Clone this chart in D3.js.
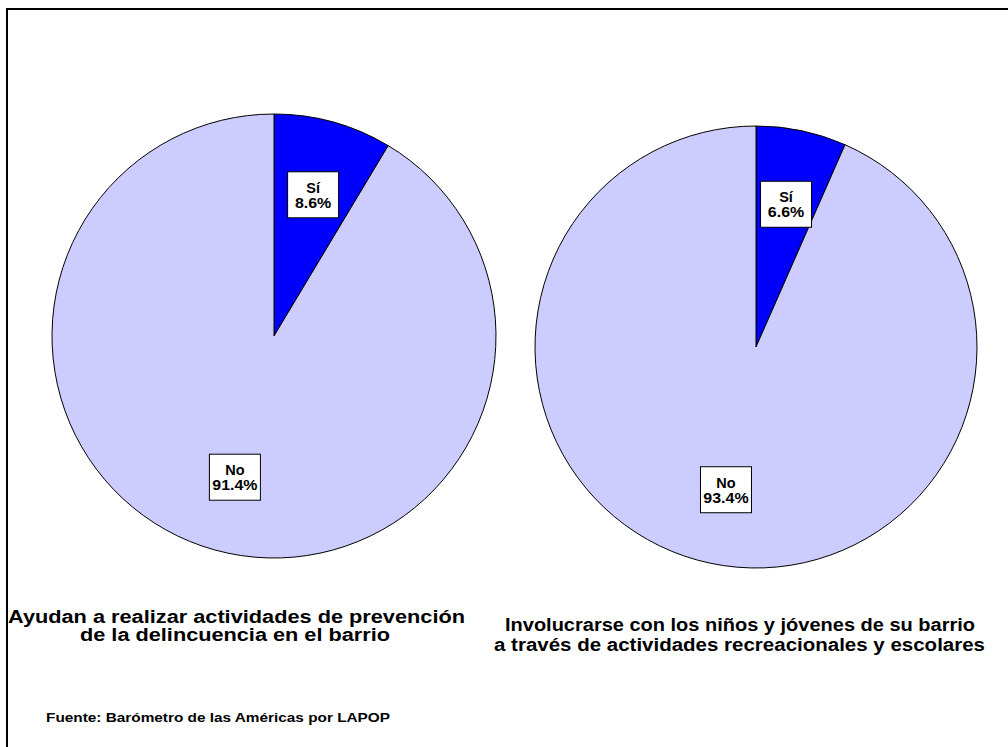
<!DOCTYPE html>
<html><head><meta charset="utf-8">
<script src="https://cdn.jsdelivr.net/npm/d3@7"></script>
<style>html,body{margin:0;padding:0;background:#fff;}svg{display:block;}</style>
</head><body>
<svg id="c" width="1008" height="747"></svg>
<script>
const categories = ["Sí", "No"];
const pie1Values = [8.6, 91.4];
const pie2Values = [6.6, 93.4];
const titles1 = ["Ayudan a realizar actividades de prevención", "de la delincuencia en el barrio"];
const titles2 = ["Involucrarse con los niños y jóvenes de su barrio", "a través de actividades recreacionales y escolares"];
const source = "Fuente: Barómetro de las Américas por LAPOP";

const svg = d3.select("#c");
const font = "'Liberation Sans', Arial, sans-serif";
const color = d3.scaleOrdinal().domain(categories).range(["#0000FF", "#CCCCFF"]);

svg.append("rect").attr("x", 7).attr("y", 9).attr("width", 1010).attr("height", 750)
  .attr("fill", "none").attr("stroke", "#000").attr("stroke-width", 2);

const pies = [
  {values: pie1Values, cx: 274, cy: 336, r: 222, titles: titles1,
   lines: [{x: 236.5, y: 623, w: 457}, {x: 235, y: 641, w: 310}]},
  {values: pie2Values, cx: 756, cy: 347, r: 221, titles: titles2,
   lines: [{x: 740, y: 631, w: 470}, {x: 739.5, y: 651, w: 491}]}
];

const pieGen = d3.pie().sort(null).value(d => d.v);

function stretch(sel, k) {
  sel.each(function() {
    const w = this.getComputedTextLength();
    d3.select(this).attr("textLength", w * k).attr("lengthAdjust", "spacingAndGlyphs");
  });
}

pies.forEach(p => {
  const data = categories.map((c, i) => ({c, v: p.values[i]}));
  const arcs = pieGen(data);
  const arc = d3.arc().innerRadius(0).outerRadius(p.r);
  const labelArc = d3.arc().innerRadius(p.r * 0.66).outerRadius(p.r * 0.66);
  const g = svg.append("g").attr("transform", `translate(${p.cx},${p.cy})`);
  g.selectAll("path").data(arcs).join("path")
    .attr("d", arc).attr("fill", d => color(d.data.c))
    .attr("stroke", "#000").attr("stroke-width", 1);
  const lg = g.selectAll("g.lab").data(arcs).join("g").attr("class", "lab")
    .attr("transform", d => `translate(${labelArc.centroid(d)})`);
  lg.append("rect").attr("x", -25.5).attr("y", -23).attr("width", 51).attr("height", 46)
    .attr("fill", "#fff").attr("stroke", "#000").attr("stroke-width", 1);
  lg.append("text").attr("text-anchor", "middle").attr("y", -2)
    .attr("font-family", font).attr("font-weight", "bold").attr("font-size", 14.5)
    .text(d => d.data.c);
  lg.append("text").attr("text-anchor", "middle").attr("y", 13)
    .attr("font-family", font).attr("font-weight", "bold").attr("font-size", 14.5)
    .text(d => d.data.v.toFixed(1) + "%")
    .call(stretch, 1.1);
  p.titles.forEach((t, i) => {
    const L = p.lines[i];
    svg.append("text").attr("x", L.x).attr("y", L.y)
      .attr("text-anchor", "middle").attr("font-family", font)
      .attr("font-weight", "bold").attr("font-size", 17.5)
      .attr("textLength", L.w).attr("lengthAdjust", "spacingAndGlyphs").text(t);
  });
});

svg.append("text").attr("x", 46).attr("y", 722).attr("font-family", font)
  .attr("font-weight", "bold").attr("font-size", 13.5)
  .attr("textLength", 344).attr("lengthAdjust", "spacingAndGlyphs").text(source);
</script>
</body></html>
